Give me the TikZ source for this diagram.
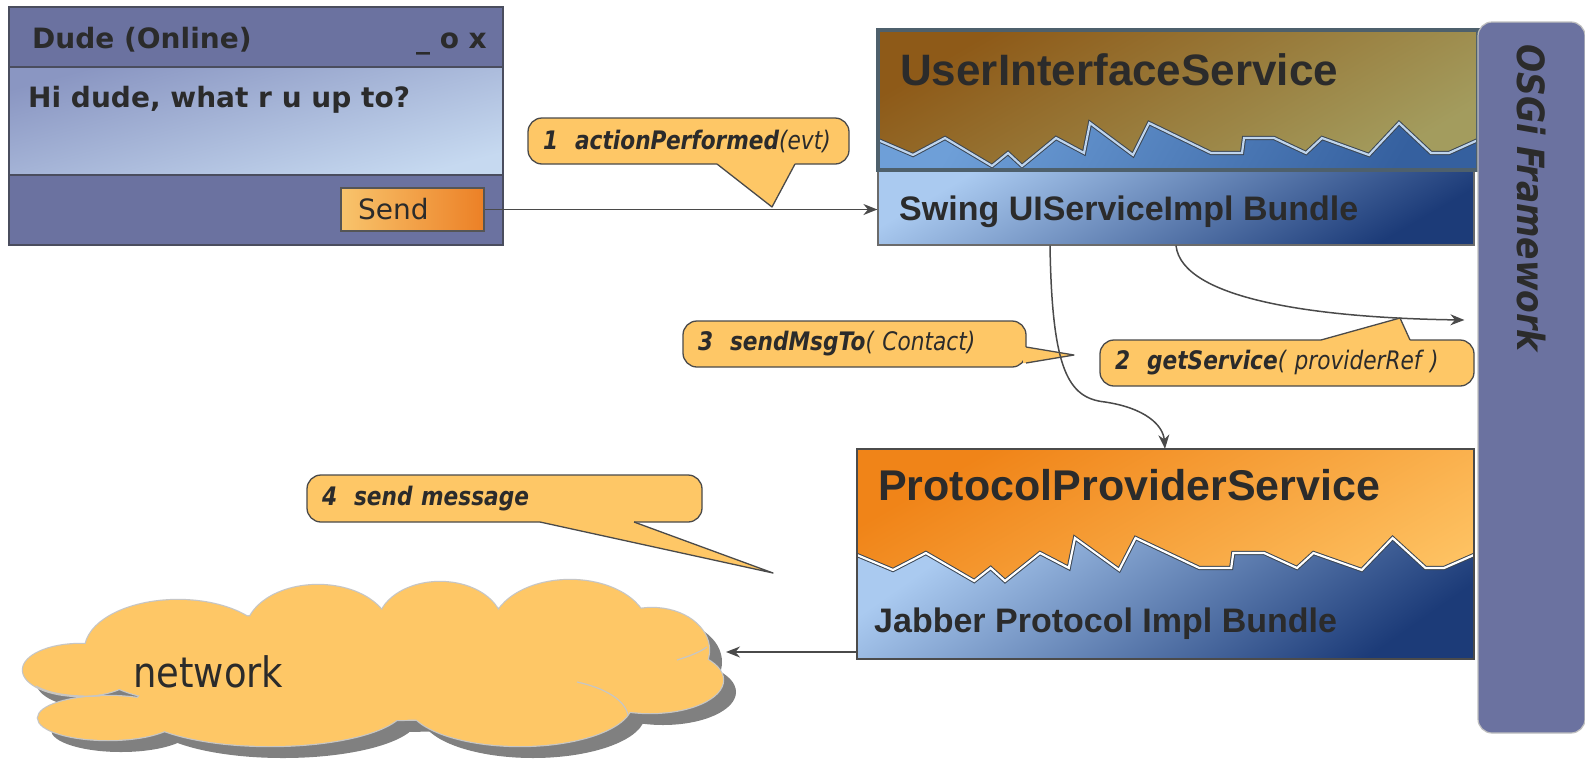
\documentclass[tikz,border=0pt]{standalone}
\usepackage{fontspec}
\setmainfont{DejaVu Sans}
\newfontfamily\boxfont{Liberation Sans}
\newfontfamily\condfont[FakeStretch=0.88]{DejaVu Sans}
\newfontfamily\callfont[FakeStretch=0.85]{DejaVu Sans}
\usetikzlibrary{arrows.meta}
\tikzset{>={Stealth[length=14pt,width=11pt]}}
\definecolor{barblue}{HTML}{6B72A0}
\definecolor{framegray}{HTML}{4A4D5E}
\definecolor{paneTop}{HTML}{8A96C2}
\definecolor{paneBot}{HTML}{C6D9F0}
\definecolor{btnL}{HTML}{F8C46C}
\definecolor{btnR}{HTML}{EC8026}
\definecolor{uisTop}{HTML}{8E5A18}
\definecolor{uisBot}{HTML}{A39C5E}
\definecolor{uisEdge}{HTML}{4E606C}
\definecolor{ridgeTop}{HTML}{6E9FD8}
\definecolor{ridgeBot}{HTML}{35609F}
\definecolor{ridgeline}{HTML}{3A4552}
\definecolor{bundleTL}{HTML}{AACAF0}
\definecolor{bundleBR}{HTML}{1C3B78}
\definecolor{ppsTL}{HTML}{F08418}
\definecolor{ppsBR}{HTML}{FFC768}
\definecolor{callfill}{HTML}{FEC766}
\definecolor{ink}{HTML}{2B2B2B}
\definecolor{wire}{HTML}{4A4A4A}
\tikzset{
  winpart/.style={fill=barblue, draw=framegray, line width=1.2},
  msgpane/.style={draw=framegray, line width=1.2, top color=paneTop, bottom color=paneBot, shading angle=15},
  wintext/.style={inner sep=0, text=ink, font=\bfseries\fontsize{28}{32}\selectfont},
  sendbtn/.style={draw=ink!80, line width=1.2, left color=btnL, right color=btnR,
    minimum height=43, text width=109, inner xsep=17, align=left, text=ink,
    font=\fontsize{28}{32}\selectfont},
  svcbox/.style={inner sep=0, minimum width=600, minimum height=140, top color=uisTop, bottom color=uisBot, shading angle=30},
  svcframe/.style={draw=uisEdge, line width=4.5},
  svcname/.style={inner sep=0, text=ink, font=\boxfont\bfseries\fontsize{44}{48}\selectfont},
  bundlebox/.style={inner sep=0, draw=ink!70, line width=1.2, top color=bundleTL, bottom color=bundleBR, shading angle=30},
  bundlename/.style={inner sep=0, text=ink, font=\boxfont\bfseries\fontsize{34}{38}\selectfont},
  ppsbox/.style={inner sep=0, minimum width=617, minimum height=210, top color=ppsTL, bottom color=ppsBR, shading angle=30},
  ppsframe/.style={draw=ink!85, line width=1.5},
  uisridge/.style={top color=ridgeTop, bottom color=ridgeBot, shading angle=60},
  ppsridge/.style={top color=bundleTL, bottom color=bundleBR, shading angle=35},
  bubble/.style={fill=callfill, draw=wire, line width=1.3, rounded corners=14, inner xsep=15, inner ysep=0,
    align=left, text=ink, font=\callfont\itshape\fontsize{25.5}{30}\selectfont},
  flow/.style={->, draw=wire, line width=1.5},
  puffshadow/.style={fill=gray},
  puffline/.style={draw=gray!45, line width=2.4},
  netname/.style={inner sep=0, text=ink, font=\condfont\fontsize{42}{46}\selectfont},
  osgibar/.style={minimum width=107, minimum height=711, inner sep=0, rounded corners=14, fill=barblue, draw=gray!50, line width=1.2},
  osginame/.style={inner sep=0, text=ink, font=\condfont\bfseries\itshape\fontsize{37.5}{42}\selectfont}
}
% mountain line between service and bundle
\def\ridgepts{0/110,35/125,67/108,114/136,130/123,144/136,178/108,206/123,212/93,255/125,271/93,333/123,364/123,366/108,396/108,428/123,444/108,491/125,521/93,553/123,571/123,600/110}
\newcommand{\ridge}[6]{%
  \begin{scope}[shift={(#1,#2)},xscale=#3]
    \fill[#5] (0,#4) \foreach \rx/\ry in \ridgepts {-- (\rx,\ry)} -- (600,#4) -- cycle;
    \draw[draw=ridgeline, line width=1, double=#6, double distance=2.2]
      (0,110) \foreach \rx/\ry in \ridgepts {-- (\rx,\ry)};
  \end{scope}}
% callout tail: base, tip, base, inward shift
\newcommand{\tail}[4]{%
  \fill[callfill] ([shift={(#4)}]#1) -- (#1) -- (#2) -- (#3) -- ([shift={(#4)}]#3) -- cycle;
  \draw[wire, line width=1.3, line join=round] (#1) -- (#2) -- (#3);}
% cloud puffs: cx/cy/rx/ry
\def\puffs{80/670/57/26,108/718/70/22,178/650/93/50,318/632/72/47,440/625/62/43,570/630/78/50,652/650/57/42,650/680/73/33,520/703/112/43,270/706/135/40,380/665/280/55}

\begin{document}
\begin{tikzpicture}[x=1pt,y=-1pt]
\useasboundingbox (0,0) rectangle (1585,782);
\fill[white] (0,0) rectangle (1585,782);

% chat window
\filldraw[winpart] (9,7) rectangle (503,67);
\filldraw[msgpane] (9,67) rectangle (503,175);
\filldraw[winpart] (9,175) rectangle (503,245);
\draw[framegray, line width=1.5] (9,7) rectangle (503,245);
\node[wintext, anchor=base west] (title) at (32,48) {Dude (Online)};
\node[wintext, anchor=base east] (ctrls) at (487,48) {\_ o x};
\node[wintext, anchor=base west] (msg) at (28,107) {Hi dude, what r u up to?};
\node[sendbtn] (send) at (412.5,209.5) {Send};

% step 1
\node[bubble, minimum height=46, text width=291] (act) at (688.5,141) {\mbox{{\bfseries 1\ \ actionPerformed}(evt)}};
\tail{717,164}{772,207}{795,164}{0,-3}

% UI service and its bundle
\node[bundlebox, minimum width=596, minimum height=75] (swing) at (1176,207.5) {};
\node[bundlename, anchor=base west] (swingname) at (899,220) {Swing UIServiceImpl Bundle};
\node[svcbox] (uis) at (1178,100) {};
\begin{scope}
  \clip (uis.north west) rectangle (uis.south east);
  \ridge{878}{30}{1}{142}{uisridge}{ridgeTop!45!white}
\end{scope}
\draw[svcframe] (uis.north west) rectangle (uis.south east);
\node[svcname, anchor=base west] (uisname) at (900,85) {UserInterfaceService};

% steps 2 and 3
\node[bubble, minimum height=46, text width=344] (getsvc) at (1287,363) {\mbox{{\bfseries 2\ \ getService}( providerRef )}};
\tail{1321,340}{1400,318}{1410,340}{0,3}
\node[bubble, minimum height=46, text width=313] (sendto) at (854.5,344) {\mbox{{\bfseries 3\ \ sendMsgTo}( Contact)}};
\tail{1026,347}{1074,355}{1026,363}{-3,0}

% protocol provider and its bundle
\node[ppsbox] (pps) at (1165.5,554) {};
\begin{scope}
  \clip (pps.north west) rectangle (pps.south east);
  \ridge{857}{445}{1.028}{216}{ppsridge}{white}
\end{scope}
\draw[ppsframe] (pps.north west) rectangle (pps.south east);
\node[svcname, anchor=base west, font=\boxfont\bfseries\fontsize{43}{48}\selectfont] (ppsname) at (878,500) {ProtocolProviderService};
\node[bundlename, anchor=base west] (jabname) at (874,632) {Jabber Protocol Impl Bundle};

% framework
\node[osgibar] (osgi) at (1531.5,377.5) {};
\node[osginame, rotate=-90] (osgitxt) at (1531,198) {OSGi Framework};
\coordinate (fwin) at ([xshift=-13pt]osgi.west |- 0,320);

% network cloud
\foreach \cx/\cy/\rx/\ry in \puffs {\fill[puffshadow] (\cx+13,\cy+12) ellipse [x radius=\rx, y radius=\ry];}
\foreach \cx/\cy/\rx/\ry in \puffs {\draw[puffline] (\cx,\cy) ellipse [x radius=\rx, y radius=\ry];}
\foreach \cx/\cy/\rx/\ry in \puffs {\fill[callfill] (\cx,\cy) ellipse [x radius=\rx, y radius=\ry];}
\draw[gray!45, line width=1.2] (577,682) .. controls (605,688) and (625,700) .. (628,715);
\draw[gray!45, line width=1.2] (36,686) .. controls (50,694) and (72,697) .. (100,696);
\draw[gray!45, line width=1.2] (677,660) .. controls (690,656) and (700,652) .. (707,647);
\node[netname, anchor=base west] (netlbl) at (133,687) {network};
\coordinate (netport) at (726,652);
\node[bubble, minimum height=47, text width=365] (sendnet) at (504.5,498.5) {\mbox{{\bfseries 4\ \ send message}}};
\tail{540,522}{773,573}{634,522}{0,-3}

% calls
\draw[flow] (send.east) -- (send.east -| swing.west);
\draw[flow] (swing.south -| 1176,0) .. controls (1182,300) and (1320,318) .. (fwin);
\draw[flow] (swing.south -| 1050,0) .. controls (1052,370) and (1068,398) .. (1105,402)
  .. controls (1145,408) and (1163,425) .. (pps.north -| 1165,0);
\draw[flow] (pps.west |- netport) -- (netport);
\end{tikzpicture}
\end{document}
